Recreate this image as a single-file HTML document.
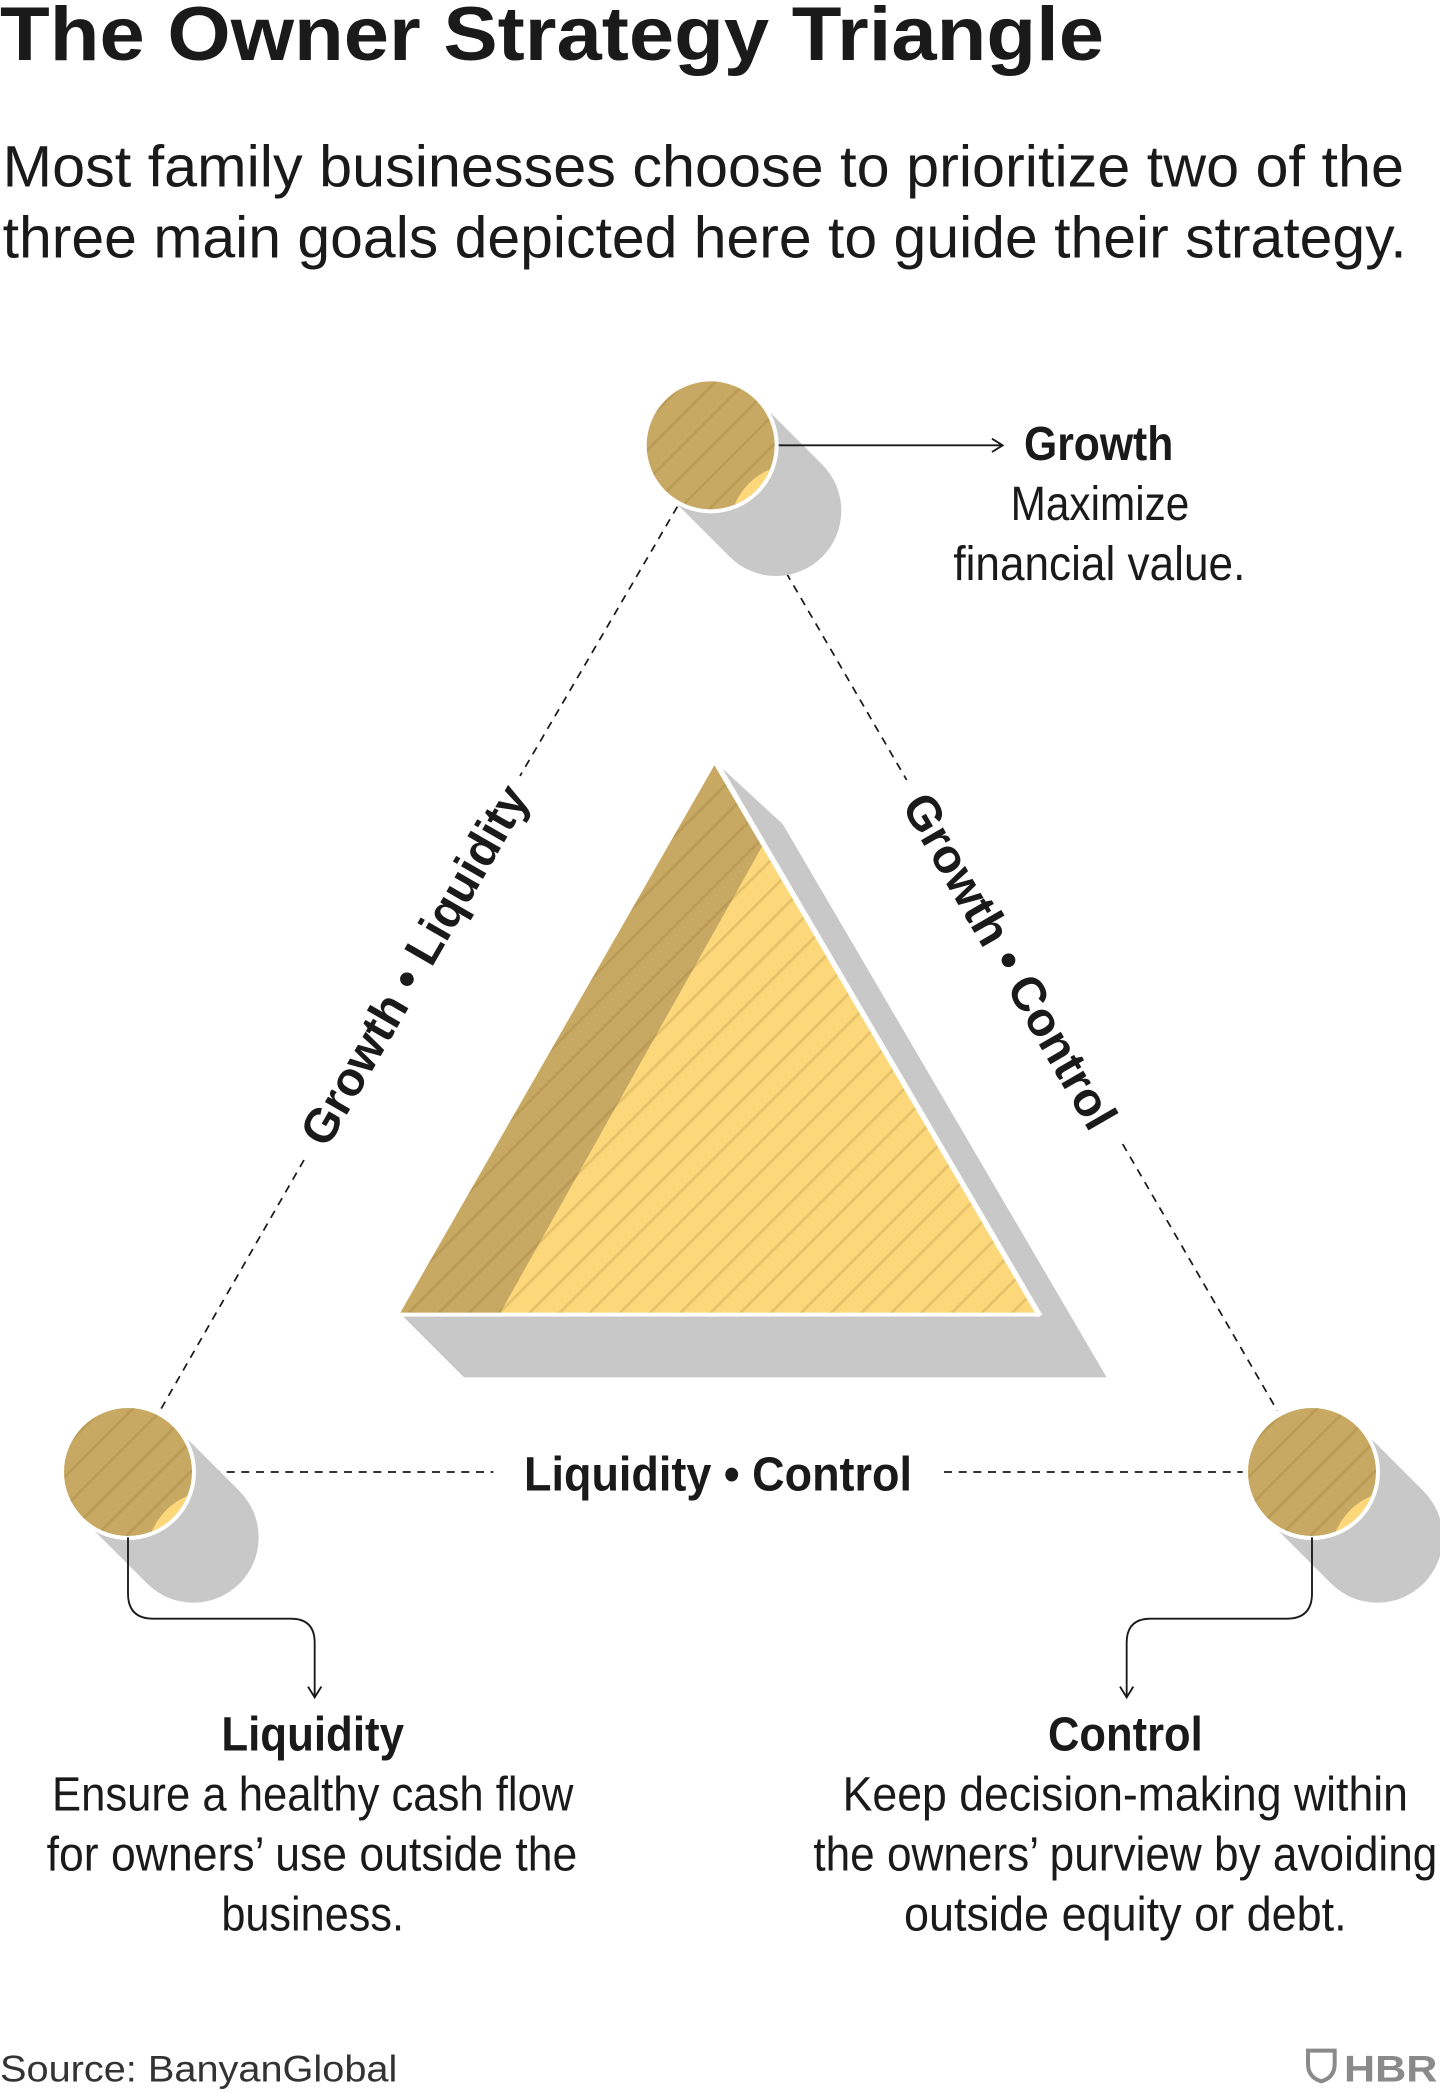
<!DOCTYPE html>
<html><head><meta charset="utf-8"><style>
html,body{margin:0;padding:0;background:#fff;}
svg{display:block}
text{font-family:"Liberation Sans Narrow","Liberation Sans",sans-serif;fill:#1a1a1a}
</style></head><body>
<svg width="1440" height="2092" viewBox="0 0 1080 1569" xmlns="http://www.w3.org/2000/svg">
<defs>
<pattern id="st" patternUnits="userSpaceOnUse" width="16" height="16" patternTransform="rotate(45)">
<rect width="16" height="16" fill="none"/><rect x="0" y="0" width="2" height="16" fill="rgba(120,90,30,0.18)"/>
</pattern>
<clipPath id="cc"><circle cx="0" cy="0" r="48"/></clipPath>
<marker id="ar" markerWidth="12" markerHeight="12" refX="10" refY="6" orient="auto" markerUnits="userSpaceOnUse">
<path d="M2,1 L10,6 L2,11" fill="none" stroke="#1a1a1a" stroke-width="1.4"/></marker>
<g id="node">
<line x1="0" y1="0" x2="49" y2="49" stroke="#c8c8c8" stroke-width="98"/>
<circle cx="49" cy="49" r="49" fill="#c8c8c8"/>
<circle cx="0" cy="0" r="51" fill="#fff"/>
<g clip-path="url(#cc)">
<rect x="-50" y="-50" width="100" height="100" fill="#c8a963"/>
<circle cx="64" cy="64" r="50" fill="#fdd87a"/>
<rect x="-50" y="-50" width="100" height="100" fill="url(#st)"/>
</g>
</g>
</defs>

<text x="0" y="45" font-weight="bold" font-size="57" textLength="828" lengthAdjust="spacingAndGlyphs" style="font-family:'Liberation Sans',sans-serif">The Owner Strategy Triangle</text>
<text x="2" y="140" font-size="44" textLength="1051" lengthAdjust="spacingAndGlyphs" style="font-family:'Liberation Sans',sans-serif">Most family businesses choose to prioritize two of the</text>
<text x="2" y="193" font-size="44" textLength="1053" lengthAdjust="spacingAndGlyphs" style="font-family:'Liberation Sans',sans-serif">three main goals depicted here to guide their strategy.</text>

<g stroke="#1a1a1a" stroke-width="1.3" stroke-dasharray="6,5" fill="none">
<line x1="508" y1="380" x2="390" y2="582"/>
<line x1="228" y1="870" x2="120" y2="1058"/>
<line x1="562" y1="382" x2="680" y2="585"/>
<line x1="842" y1="858" x2="958" y2="1058"/>
<line x1="148" y1="1104" x2="370" y2="1104"/>
<line x1="708" y1="1104" x2="932" y2="1104"/>
</g>

<polygon points="537,572 587,618 830,1033 348,1033 300,985" fill="#c8c8c8"/>
<polygon points="537,572 778,985 300,985" fill="#fdd87a"/>
<polygon points="537,572 572,634 375,985 300,985" fill="#c8a963"/>
<polygon points="537,572 778,985 300,985" fill="url(#st)"/>
<line x1="537" y1="572" x2="780" y2="987" stroke="#fff" stroke-width="4"/>
<line x1="300" y1="986" x2="780" y2="986" stroke="#fff" stroke-width="3"/>

<use href="#node" x="533" y="334"/>
<use href="#node" x="96" y="1104"/>
<use href="#node" x="984" y="1104"/>

<line x1="584" y1="334" x2="752" y2="334" stroke="#1a1a1a" stroke-width="1.4" marker-end="url(#ar)"/>
<path d="M96,1153 V1195 Q96,1214 115,1214 H218 Q236,1214 236,1232 V1273" fill="none" stroke="#1a1a1a" stroke-width="1.4" marker-end="url(#ar)"/>
<path d="M984,1153 V1195 Q984,1214 965,1214 H863 Q845,1214 845,1232 V1273" fill="none" stroke="#1a1a1a" stroke-width="1.4" marker-end="url(#ar)"/>

<text transform="translate(311,724) rotate(-60)" text-anchor="middle" font-size="36" font-weight="bold" y="12" textLength="305" lengthAdjust="spacingAndGlyphs">Growth • Liquidity</text>
<text transform="translate(757,721) rotate(60)" text-anchor="middle" font-size="36" font-weight="bold" y="12" textLength="284" lengthAdjust="spacingAndGlyphs">Growth • Control</text>
<text x="393" y="1118" font-size="36" font-weight="bold" textLength="291" lengthAdjust="spacingAndGlyphs">Liquidity • Control</text>

<text x="768" y="345" font-size="36" font-weight="bold" textLength="112" lengthAdjust="spacingAndGlyphs">Growth</text>
<text x="758" y="390" font-size="36" textLength="134" lengthAdjust="spacingAndGlyphs">Maximize</text>
<text x="715" y="435" font-size="36" textLength="219" lengthAdjust="spacingAndGlyphs">financial value.</text>

<text x="166" y="1313" font-size="36" font-weight="bold" textLength="137" lengthAdjust="spacingAndGlyphs">Liquidity</text>
<text x="39" y="1358" font-size="36" textLength="391" lengthAdjust="spacingAndGlyphs">Ensure a healthy cash flow</text>
<text x="35" y="1403" font-size="36" textLength="398" lengthAdjust="spacingAndGlyphs">for owners’ use outside the</text>
<text x="166" y="1448" font-size="36" textLength="137" lengthAdjust="spacingAndGlyphs">business.</text>

<text x="786" y="1313" font-size="36" font-weight="bold" textLength="116" lengthAdjust="spacingAndGlyphs">Control</text>
<text x="632" y="1358" font-size="36" textLength="424" lengthAdjust="spacingAndGlyphs">Keep decision-making within</text>
<text x="610" y="1403" font-size="36" textLength="468" lengthAdjust="spacingAndGlyphs">the owners’ purview by avoiding</text>
<text x="678" y="1448" font-size="36" textLength="332" lengthAdjust="spacingAndGlyphs">outside equity or debt.</text>

<text x="0" y="1561" font-size="28" textLength="298" lengthAdjust="spacingAndGlyphs" style="font-family:'Liberation Sans',sans-serif;fill:#333">Source: BanyanGlobal</text>
<path d="M981,1538 H1001 V1548 Q1001,1558 991,1561 Q981,1558 981,1548 Z" fill="none" stroke="#8a8a8a" stroke-width="3"/>
<text x="1008" y="1561" font-size="28" font-weight="bold" textLength="70" lengthAdjust="spacingAndGlyphs" style="font-family:'Liberation Sans',sans-serif;fill:#8a8a8a">HBR</text>
</svg>
</body></html>
